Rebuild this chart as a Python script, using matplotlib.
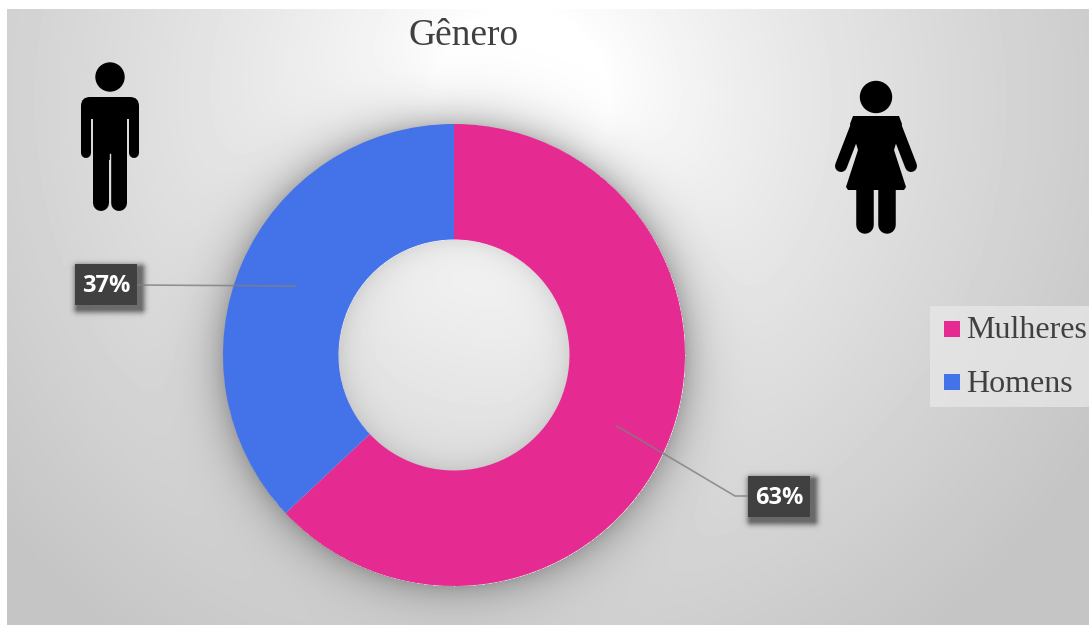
import numpy as np
import matplotlib
matplotlib.use('Agg')
import matplotlib.pyplot as plt
from matplotlib.patches import Circle, Polygon, Rectangle, FancyBboxPatch

W, H = 1089, 627

categories = ['Mulheres', 'Homens']
values = [63, 37]
colors = ['#E52A92', '#4472E8']
title = 'Gênero'

center = (454, 355)
outer_r = 231
inner_r = 115.5


def py(y):
    # the axes run bottom-up, layout below is measured from the top
    return H - y


def box_dist(xx, yy, x0, y0, x1, y1):
    dx = np.maximum(np.maximum(x0 - xx, xx - x1), 0)
    dy = np.maximum(np.maximum(y0 - yy, yy - y1), 0)
    return np.hypot(dx, dy)


def background():
    yy, xx = np.mgrid[0:H, 0:W]
    d = np.hypot((xx - 520) / 1.0, (yy - 100) / 1.0)
    gray = 255 - 50 * np.clip((d - 90) / 480, 0, 1.2) ** 0.8

    # soft shadow around the ring
    r = np.hypot(xx - center[0], yy - center[1])
    out = np.where(r > outer_r, np.exp(-(r - outer_r) / 20.0), 0)
    inn = np.where(r < inner_r, np.exp(-(inner_r - r) / 14.0), 0)
    gray = gray * (1 - 0.26 * out)
    gray = gray * (1 - 0.10 * inn)

    # shadows under the two value boxes
    for x0, y0, x1, y1 in [(78, 268, 140, 308), (751, 480, 813, 520)]:
        gray = gray * (1 - 0.5 * np.exp(-(box_dist(xx, yy, x0, y0, x1, y1) / 5.0) ** 2))
    return gray


def limb(ax, xs, ys, width):
    ax.plot(xs, [py(v) for v in ys], color='black', lw=width * 0.72,
            solid_capstyle='round', zorder=5)


def man(ax):
    ax.add_patch(Circle((110, py(77)), 14, color='black', zorder=5))
    ax.add_patch(FancyBboxPatch((81, py(119)), 58, 22, boxstyle='round,pad=0,rounding_size=9',
                                fc='black', ec='none', zorder=5))
    ax.add_patch(Rectangle((93, py(160)), 34, 50, fc='black', ec='none', zorder=5))
    limb(ax, [86, 86], [108, 153], 10)
    limb(ax, [134, 134], [108, 153], 10)
    limb(ax, [101, 101], [150, 203], 16)
    limb(ax, [119, 119], [150, 203], 16)
    # thin slit between the legs
    ax.plot([110, 110], [py(154), py(212)], color='#dcdcdc', lw=1.0, zorder=6)


def woman(ax):
    ax.add_patch(Circle((876, py(97)), 15.5, color='black', zorder=5))
    body = [(853, 116), (899, 116), (902, 124), (894, 150), (906, 187), (904, 190),
            (848, 190), (846, 187), (858, 150), (850, 124)]
    ax.add_patch(Polygon([(x, py(y)) for x, y in body], closed=True, fc='black', ec='none', zorder=5))
    limb(ax, [858, 841], [122, 166], 12)
    limb(ax, [894, 911], [122, 166], 12)
    limb(ax, [865, 865], [185, 225], 17.5)
    limb(ax, [887, 887], [185, 225], 17.5)


def value_box(ax, x0, y0, x1, y1, text):
    ax.add_patch(Rectangle((x0, py(y1)), x1 - x0, y1 - y0, fc='#404040', ec='none', zorder=7))
    ax.text((x0 + x1) / 2, py((y0 + y1) / 2 + 2), text, color='white', fontsize=17, fontweight='bold',
            family='Open Sans', ha='center', va='center', zorder=8)


fig = plt.figure(figsize=(W / 100, H / 100), dpi=100, facecolor='white')
ax = fig.add_axes([0, 0, 1, 1])

ax.imshow(background()[9:625, 7:], cmap='gray', vmin=0, vmax=255, aspect='auto',
          extent=(7, W, py(625), py(9)), zorder=0, interpolation='nearest')

ax.pie(values, colors=colors, startangle=90, counterclock=False, center=(center[0], py(center[1])),
       radius=outer_r, frame=True,
       wedgeprops=dict(width=outer_r - inner_r, linewidth=0, zorder=3))

ax.set_xlim(0, W)
ax.set_ylim(0, H)
ax.set_aspect('auto')
ax.axis('off')

ax.text(464, py(36), title, family='Liberation Serif', fontsize=27, color='#404040',
        ha='center', va='center')

man(ax)
woman(ax)

# leader lines, a bit paler where they cross the ring
ax.plot([137, 295], [py(285), py(286)], color='#7f7f7f', lw=1.2, zorder=4, alpha=0.8)
ax.plot([617, 735, 748], [py(426), py(496), py(496)], color='#7f7f7f', lw=1.2, zorder=4, alpha=0.8)

value_box(ax, 75, 264, 137, 305, f'{values[1]}%')
value_box(ax, 748, 476, 810, 517, f'{values[0]}%')

# legend
ax.add_patch(Rectangle((930, py(407)), W - 930, 101, fc='#e9e9e9', ec='none', alpha=0.7, zorder=2))
for name, col, ly in zip(categories, colors, [331, 384]):
    ax.add_patch(Rectangle((944, py(ly + 6)), 16, 16, fc=col, ec='none', zorder=3))
    ax.text(966, py(ly), name, family='Liberation Serif', fontsize=23, color='#404040',
            ha='left', va='center', zorder=3)

fig.savefig('out.png', dpi=100)
